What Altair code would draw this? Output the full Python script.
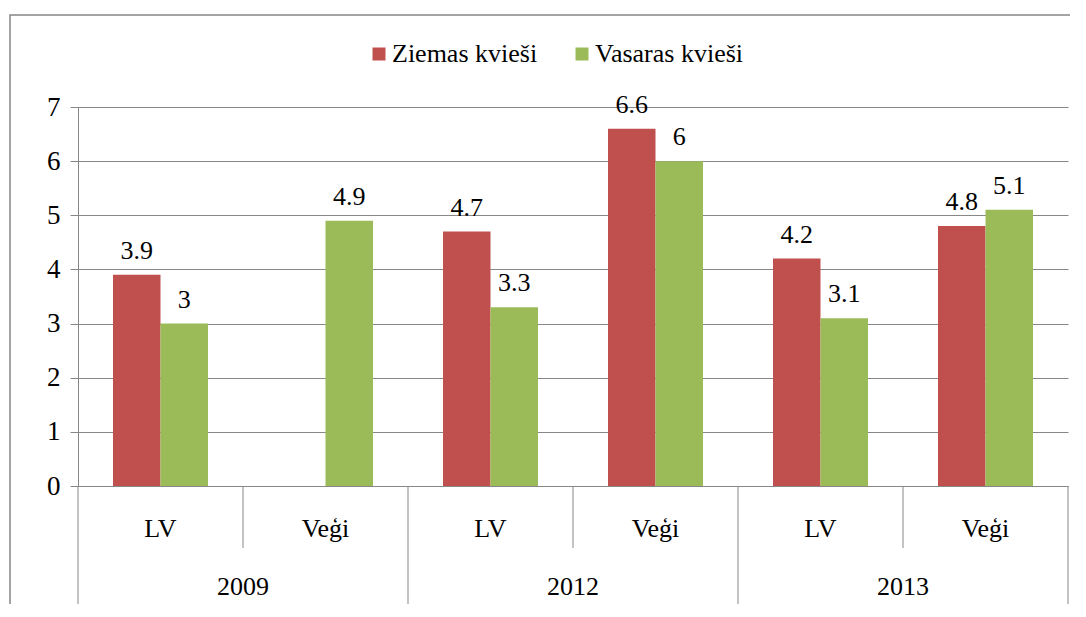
import altair as alt
import pandas as pd

years = ["2009", "2009", "2012", "2012", "2013", "2013"]
places = ["LV", "Veģi", "LV", "Veģi", "LV", "Veģi"]
ziemas = [3.9, None, 4.7, 6.6, 4.2, 4.8]
vasaras = [3.0, 4.9, 3.3, 6.0, 3.1, 5.1]
series = ["Ziemas kvieši", "Vasaras kvieši"]
colors = ["#C0504D", "#9BBB59"]
y_ticks = [0, 1, 2, 3, 4, 5, 6, 7]

FONT = "Liberation Serif"
FS = 26
GRAY = "#878787"
W, H = 990, 379

slots = [f"{y} {p}" for y, p in zip(years, places)]
rows = []
for s, yr, pl, z, v in zip(slots, years, places, ziemas, vasaras):
    if z is not None:
        rows.append(dict(slot=s, year=yr, place=pl, series=series[0], value=z))
    if v is not None:
        rows.append(dict(slot=s, year=yr, place=pl, series=series[1], value=v))
bars_df = pd.DataFrame(rows)
slots_df = pd.DataFrame(dict(slot=slots, year=years, place=places))

x_main = alt.X(
    "slot:N", sort=slots,
    scale=alt.Scale(paddingInner=0, paddingOuter=0),
    axis=alt.Axis(labels=False, ticks=False, title=None, grid=False,
                  domainColor=GRAY, domainWidth=1),
)
x_off = alt.XOffset("series:N", sort=series,
                    scale=alt.Scale(paddingInner=0, paddingOuter=0.737))
y_enc = alt.Y(
    "value:Q",
    scale=alt.Scale(domain=[0, 7], nice=False, zero=True),
    axis=alt.Axis(values=y_ticks, title=None, grid=True, gridColor=GRAY,
                  gridWidth=1, tickColor=GRAY, tickSize=8, domainColor=GRAY,
                  labelFont=FONT, labelFontSize=27, labelColor="black",
                  labelPadding=10, format="d"),
)

bars = alt.Chart(bars_df).mark_bar().encode(
    x=x_main, xOffset=x_off, y=y_enc,
    color=alt.Color(
        "series:N", sort=series,
        scale=alt.Scale(domain=series, range=colors),
        legend=alt.Legend(orient="none", legendX=288, legendY=-66,
                          direction="horizontal", title=None,
                          symbolType="square", symbolSize=169,
                          symbolStrokeWidth=0, symbolOpacity=1,
                          labelFont=FONT, labelFontSize=FS,
                          labelColor="black", labelOffset=0,
                          columnPadding=31),
    ),
)

labels = alt.Chart(bars_df).mark_text(
    font=FONT, fontSize=FS, baseline="alphabetic", dy=-16, color="black"
).encode(
    x=alt.X("slot:N", sort=slots), xOffset=alt.XOffset("series:N", sort=series),
    y="value:Q", text=alt.Text("value:Q"),
)

place_labels = alt.Chart(slots_df).mark_text(
    font=FONT, fontSize=FS, baseline="alphabetic", color="black"
).encode(
    x=alt.X("slot:N", sort=slots), y=alt.value(H + 51), text="place:N",
)

year_labels = alt.Chart(slots_df).transform_filter(
    alt.datum.place == "Veģi"
).mark_text(
    font=FONT, fontSize=FS, baseline="alphabetic", color="black"
).encode(
    x=alt.X("slot:N", sort=slots, bandPosition=0), y=alt.value(H + 109),
    text="year:N",
)

long_rules = alt.Chart(slots_df).transform_filter(
    alt.datum.place == "LV"
).mark_rule(color=GRAY, strokeWidth=1).encode(
    x=alt.X("slot:N", sort=slots, bandPosition=0),
    y=alt.value(H), y2=alt.value(H + 124),
)

short_rules = alt.Chart(slots_df).transform_filter(
    alt.datum.place == "Veģi"
).mark_rule(color=GRAY, strokeWidth=1).encode(
    x=alt.X("slot:N", sort=slots, bandPosition=0),
    y=alt.value(H), y2=alt.value(H + 62),
)

end_rule = alt.Chart(slots_df).transform_filter(
    alt.datum.slot == slots[-1]
).mark_rule(color=GRAY, strokeWidth=1).encode(
    x=alt.X("slot:N", sort=slots, bandPosition=1),
    y=alt.value(H), y2=alt.value(H + 124),
)

border = alt.Chart(slots_df).transform_filter(
    alt.datum.slot == slots[0]
).mark_rect(fill=None, stroke=GRAY, strokeWidth=1.5).encode(
    x=alt.value(-68), x2=alt.value(W + 60),
    y=alt.value(-92), y2=alt.value(H + 200),
)

chart = alt.layer(
    border, bars, labels, long_rules, short_rules, end_rule,
    place_labels, year_labels,
).properties(
    width=W, height=H,
    autosize=alt.AutoSizeParams(type="none"),
    padding={"left": 70, "top": 99, "right": 2, "bottom": 118},
    background="white",
).configure_view(strokeWidth=0)

chart.save("out.html", embed_options={"renderer": "svg", "actions": False})
